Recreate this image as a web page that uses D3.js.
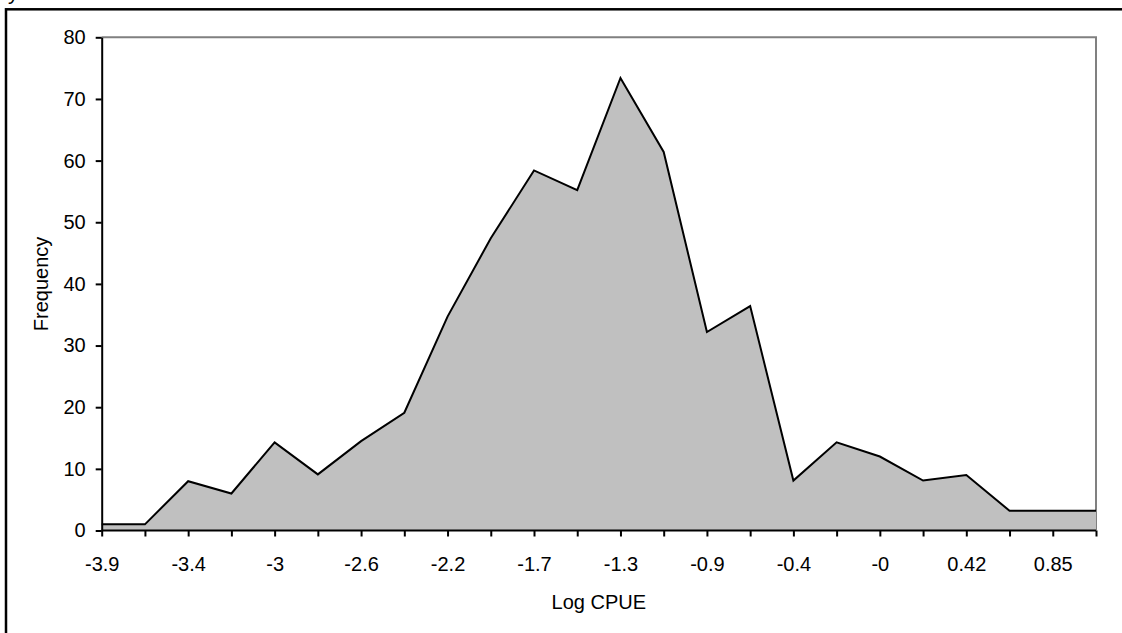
<!DOCTYPE html>
<html>
<head>
<meta charset="utf-8">
<script src="https://cdn.jsdelivr.net/npm/d3@7"></script>
<style>
  html, body { margin: 0; padding: 0; background: #fff; }
  svg { display: block; font-family: Arial, "Liberation Sans", sans-serif; }
</style>
</head>
<body>
<svg id="chart" width="1122" height="633"></svg>
<script>
// ---- data ----
const categories = ["-3.9","-3.7","-3.4","-3.3","-3","-2.8","-2.6","-2.4","-2.2","-2","-1.7","-1.5",
                    "-1.3","-1.1","-0.9","-0.66","-0.4","-0.23","-0","0.2","0.42","0.64","0.85","1.1"];
const frequency  = [1, 1, 8, 6, 14.3, 9.1, 14.5, 19.1, 34.7, 47.4, 58.4, 55.2,
                    73.4, 61.4, 32.2, 36.4, 8.1, 14.3, 12.0, 8.1, 9.0, 3.2, 3.2, 3.2];
const yTicks = [0, 10, 20, 30, 40, 50, 60, 70, 80];
const xTitle = "Log CPUE";
const yTitle = "Frequency";

// ---- layout ----
const svg = d3.select("#chart");
const pLeft = 101.7, pRight = 1096, pTop = 37.3, pBottom = 530.5;

const x = d3.scalePoint().domain(d3.range(categories.length)).range([pLeft, pRight]);
const y = d3.scaleLinear().domain([0, 80]).range([pBottom, pTop]);

// outer frame (extends beyond visible area on right/bottom)
svg.append("rect")
  .attr("x", 6).attr("y", 9.3).attr("width", 1200).attr("height", 700)
  .attr("fill", "none").attr("stroke", "#000").attr("stroke-width", 2.5);

// clipped title remnant at top-left
svg.append("text").attr("x", 8).attr("y", -0.5)
  .attr("font-size", 21).attr("fill", "#000").text("y");

// plot border (top / right in gray)
svg.append("path")
  .attr("d", `M${pLeft},${pTop}H${pRight}V${pBottom}`)
  .attr("fill", "none").attr("stroke", "#808080").attr("stroke-width", 2);

// area
const area = d3.area().x((d, i) => x(i)).y0(y(0)).y1(d => y(d));
svg.append("path").datum(frequency)
  .attr("d", area).attr("fill", "#c0c0c0");

const line = d3.line().x((d, i) => x(i)).y(d => y(d));
svg.append("path").datum(frequency)
  .attr("d", line).attr("fill", "none")
  .attr("stroke", "#000").attr("stroke-width", 2).attr("stroke-linejoin", "miter");

// x axis
const xAxis = d3.axisBottom(x)
  .tickSizeInner(6).tickSizeOuter(0).tickPadding(20)
  .tickFormat(i => (i % 2 === 0 ? categories[i] : ""));
const gx = svg.append("g").attr("transform", `translate(0,${pBottom})`).call(xAxis);
gx.select(".domain").attr("stroke", "#000").attr("stroke-width", 2)
  .attr("d", `M${pLeft},0H${pRight}`);
gx.selectAll(".tick line").attr("stroke", "#000").attr("stroke-width", 2);
gx.selectAll(".tick text").attr("font-size", 20).attr("fill", "#000")
  .attr("font-family", "Arial, 'Liberation Sans', sans-serif");

// y axis
const yAxis = d3.axisLeft(y).tickValues(yTicks)
  .tickSizeInner(6).tickSizeOuter(0).tickPadding(10);
const gy = svg.append("g").attr("transform", `translate(${pLeft},0)`).call(yAxis);
gy.select(".domain").attr("stroke", "#000").attr("stroke-width", 2);
gy.selectAll(".tick line").attr("stroke", "#000").attr("stroke-width", 2);
gy.selectAll(".tick text").attr("font-size", 20).attr("fill", "#000")
  .attr("font-family", "Arial, 'Liberation Sans', sans-serif");

// titles
svg.append("text")
  .attr("x", (pLeft + pRight) / 2).attr("y", 609)
  .attr("text-anchor", "middle").attr("font-size", 20).attr("fill", "#000")
  .text(xTitle);
svg.append("text")
  .attr("transform", `translate(48,${(pTop + pBottom) / 2}) rotate(-90)`)
  .attr("text-anchor", "middle").attr("font-size", 20).attr("fill", "#000")
  .text(yTitle);
</script>
</body>
</html>
